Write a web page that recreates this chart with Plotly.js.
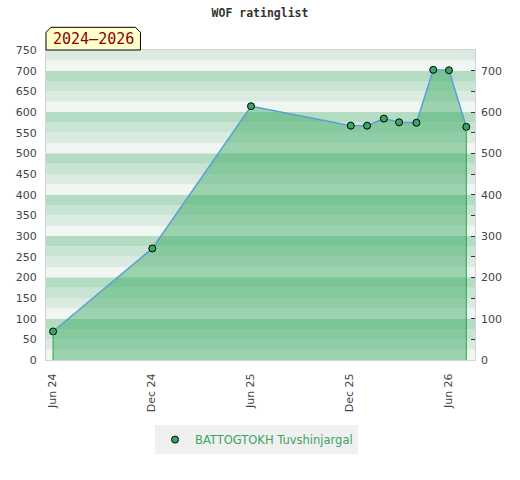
<!DOCTYPE html>
<html>
<head>
<meta charset="utf-8">
<script src="https://cdn.plot.ly/plotly-3.0.1.min.js"></script>
<style>html,body{margin:0;padding:0;background:#fff;}#chart{width:520px;height:480px;}</style>
</head>
<body>
<div id="chart"></div>
<script>
// ---- data ----
const chartTitle = 'WOF ratinglist';
const periodLabel = '2024\u20132026';
const playerName = 'BATTOGTOKH Tuvshinjargal';
const ratingDates = ['2024-06-02','2024-12-02','2025-06-02','2025-12-03','2026-01-02','2026-02-02','2026-03-02','2026-04-03','2026-05-04','2026-06-02','2026-07-04'];
const ratings = [69, 270, 614, 567, 567, 584, 575, 574, 702, 701, 564];
const xTickVals = ['2024-06-01','2024-12-01','2025-06-01','2025-12-01','2026-06-01'];
const xTickText = ['Jun 24','Dec 24','Jun 25','Dec 25','Jun 26'];
const yRange = [0, 750];
const xRange = ['2024-05-20','2026-07-20'];

// ---- background bands (decoration) ----
const bandColors = ['#f0f7f2','#dcebe2','#c7e5d2','#b3dcc3'];
const shapes = [];
for (let v = yRange[0]; v < yRange[1]; v += 25) {
  shapes.push({type:'rect', layer:'below', xref:'paper', yref:'y', x0:0, x1:1, y0:v, y1:v+25,
    fillcolor: bandColors[(v/25)%4], line:{width:0}});
}
// period badge
shapes.push({type:'path', xref:'paper', yref:'paper', layer:'above',
  path:'M0,1 L0,1.057 L0.0116,1.0732 L0.2086,1.0732 L0.2202,1.057 L0.2202,1 Z',
  fillcolor:'#ffffcc', line:{color:'#000', width:1}});

const n = ratings.length;
const green = '#3aa564';

const traces = [
  {x: ratingDates, y: ratings, type:'scatter', mode:'lines', fill:'tozeroy',
   fillcolor:'rgba(59,170,98,0.47)', line:{color:'rgba(0,0,0,0)', width:0},
   hoverinfo:'skip', showlegend:false},
  {x: [ratingDates[0], ratingDates[0], null, ratingDates[n-1], ratingDates[n-1]],
   y: [0, ratings[0], null, 0, ratings[n-1]], yaxis:'y2', type:'scatter', mode:'lines',
   line:{color:'#2ea050', width:1}, hoverinfo:'skip', showlegend:false},
  {x: ratingDates, y: ratings, type:'scatter', mode:'lines',
   line:{color:'#5a9fd8', width:1.5}, showlegend:false},
  {x: ratingDates, y: ratings, type:'scatter', mode:'markers', name: playerName,
   marker:{color: green, size:7, line:{color:'#000', width:1}}}
];

const tickFont = {family:'DejaVu Sans', size:11, color:'#444'};
const layout = {
  width:520, height:480,
  margin:{l:46, r:45, t:50, b:120},
  paper_bgcolor:'#fff', plot_bgcolor:'#fff',
  title:{text: chartTitle, x:0.5, xanchor:'center', y:0.973, yanchor:'middle',
    font:{family:'DejaVu Sans Mono', size:11.5, color:'#333', weight:'bold'}},
  xaxis:{type:'date', range:xRange, tickvals:xTickVals, ticktext:xTickText, tickangle:-90,
    showgrid:false, zeroline:false, showline:true, mirror:true, linecolor:'#d4d4d4', linewidth:1,
    ticks:'', ticklabelstandoff:8, tickfont:tickFont},
  yaxis:{range:yRange, dtick:50, tick0:0, showgrid:false, zeroline:false, showline:true, mirror:true,
    linecolor:'#d4d4d4', linewidth:1, ticks:'', ticklabelstandoff:6, tickfont:tickFont},
  yaxis2:{range:yRange, overlaying:'y', side:'right', tickvals:[0,100,200,300,400,500,600,700],
    showgrid:false, zeroline:false, showline:false, ticks:'inside', ticklen:4, tickcolor:'#333',
    minor:{dtick:50, tick0:0, ticks:'inside', ticklen:4, tickcolor:'#333', showgrid:false},
    ticklabelstandoff:5, tickfont:tickFont},
  shapes: shapes,
  annotations:[{text: periodLabel, xref:'paper', yref:'paper', x:0.1101, y:1.0366,
    xanchor:'center', yanchor:'middle', showarrow:false,
    font:{family:'DejaVu Sans Mono', size:15, color:'#8b0000'}}],
  legend:{orientation:'h', x:0.4907, xanchor:'center', y:-0.21, yanchor:'top', bgcolor:'#f0f0f0',
    itemwidth:30, font:{family:'DejaVu Sans', size:11.5, color: green}},
  showlegend:true
};

Plotly.newPlot('chart', traces, layout, {displayModeBar:false, staticPlot:true});
</script>
</body>
</html>
